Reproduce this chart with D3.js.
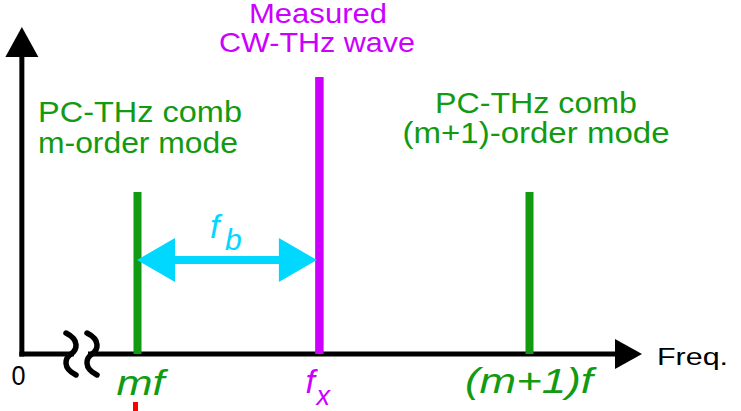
<!DOCTYPE html>
<html>
<head>
<meta charset="utf-8">
<script src="https://cdn.jsdelivr.net/npm/d3@7"></script>
<style>
  html, body { margin: 0; padding: 0; background: #fff; }
  svg { display: block; font-family: "Liberation Sans", Arial, sans-serif; }
</style>
</head>
<body>
<svg id="chart" width="741" height="411"></svg>
<script>
// ---- data ----
const modeNames = ["mf", "fx", "(m+1)f"];
const modeFreqs = [1, 1.464, 2];          // relative frequency (units of f)
const modeAmps  = [0.5, 0.855, 0.5];      // relative amplitude
const modeKinds = ["comb", "cw", "comb"];
const axisRange = [0.705, 2.287];         // frequency extent of the drawn axis (origin drawn with a break)
const beatPair  = [1, 1.464];             // f_b spans mf -> fx

const GREEN = "#129a12", MAGENTA = "#cc00ff", CYAN = "#00d8ff";

const svg = d3.select("#chart");
const x = d3.scaleLinear().domain([1, 2]).range([137.5, 529.5]);
const y = d3.scaleLinear().domain([0, 1]).range([354, 30]);

const x0 = x(axisRange[0]), x1 = x(axisRange[1]);
const y0 = y(0);

// ---- axes ----
svg.append("line").attr("x1", x0 - 2.5).attr("x2", x1 - 20).attr("y1", y0).attr("y2", y0)
  .attr("stroke", "#000").attr("stroke-width", 5);
svg.append("line").attr("x1", x0).attr("x2", x0).attr("y1", y0 + 2.5).attr("y2", y(1) + 20)
  .attr("stroke", "#000").attr("stroke-width", 5);
svg.append("path")
  .attr("d", `M${x1},${y0} L${x1 - 27},${y0 - 15} L${x1 - 27},${y0 + 15} Z`)
  .attr("fill", "#000");
svg.append("path")
  .attr("d", `M${x0},${y(1) - 3} L${x0 - 16.5},${y(1) + 27} L${x0 + 16.5},${y(1) + 27} Z`)
  .attr("fill", "#000");

// axis break: white gap and two squiggles
svg.append("rect").attr("x", 74).attr("y", y0 - 4).attr("width", 14).attr("height", 8).attr("fill", "#fff");
[71, 92].forEach(cx => {
  svg.append("path")
    .attr("d", `M${cx - 5},${y0 - 21} C${cx + 9},${y0 - 14} ${cx + 6},${y0 - 4} ${cx},${y0}
                C${cx - 6},${y0 + 4} ${cx - 9},${y0 + 14} ${cx + 5},${y0 + 21}`)
    .attr("fill", "none").attr("stroke", "#000").attr("stroke-width", 5.5)
    .attr("stroke-linecap", "round");
});

// ---- spectral lines ----
svg.selectAll("line.mode")
  .data(modeFreqs.map((f, i) => ({ f, a: modeAmps[i], kind: modeKinds[i] })))
  .enter().append("line")
  .attr("class", "mode")
  .attr("x1", d => x(d.f)).attr("x2", d => x(d.f))
  .attr("y1", y0).attr("y2", d => y(d.a))
  .attr("stroke", d => d.kind === "cw" ? MAGENTA : GREEN)
  .attr("stroke-width", d => d.kind === "cw" ? 8.5 : 8);

// ---- beat arrow f_b ----
const ax1 = x(beatPair[0]) - 0.5, ax2 = x(beatPair[1]) - 2.5, ay = 260;
const hl = 38, hh = 22, st = 4;
svg.append("path")
  .attr("d", `M${ax1},${ay} L${ax1 + hl},${ay - hh} L${ax1 + hl},${ay - st} L${ax2 - hl},${ay - st}
              L${ax2 - hl},${ay - hh} L${ax2},${ay} L${ax2 - hl},${ay + hh} L${ax2 - hl},${ay + st}
              L${ax1 + hl},${ay + st} L${ax1 + hl},${ay + hh} Z`)
  .attr("fill", CYAN);

const fb = svg.append("text").attr("fill", CYAN).attr("font-style", "italic");
fb.append("tspan").attr("x", 210).attr("y", 238).attr("font-size", 34).text("f");
fb.append("tspan").attr("x", 225).attr("y", 250).attr("font-size", 30).text("b");

// ---- texts ----
function label(t, px, py, size, color, len, anchor, italic) {
  const el = svg.append("text").attr("x", px).attr("y", py)
    .attr("font-size", size).attr("fill", color)
    .attr("text-anchor", anchor || "start")
    .text(t);
  if (len) el.attr("textLength", len).attr("lengthAdjust", "spacingAndGlyphs");
  if (italic) el.attr("font-style", "italic");
  return el;
}
label("Measured", 318, 23, 27, MAGENTA, 138, "middle");
label("CW-THz wave", 317, 52, 28, MAGENTA, 196, "middle");
label("PC-THz comb", 38, 122, 29, GREEN, 204);
label("m-order mode", 38, 153, 29, GREEN, 200);
label("PC-THz comb", 536, 113, 29, GREEN, 202, "middle");
label("(m+1)-order mode", 536, 143, 29, GREEN, 267, "middle");
label("Freq.", 657, 365, 24, "#000", 71);
label("0", 18.5, 385, 27, "#000", 14, "middle");

// mode labels under the axis
label(modeNames[0], x(modeFreqs[0]) + 3, 395, 35, GREEN, 48, "middle", true);
label(modeNames[2], x(modeFreqs[2]) - 0.5, 393, 35, GREEN, 128, "middle", true);
const fxl = svg.append("text").attr("fill", MAGENTA).attr("font-style", "italic");
fxl.append("tspan").attr("x", x(modeFreqs[1]) - 14).attr("y", 393).attr("font-size", 34).text("f");
fxl.append("tspan").attr("x", x(modeFreqs[1]) - 3).attr("y", 405).attr("font-size", 27).text("x");

// small red marker under mf
svg.append("rect").attr("x", x(modeFreqs[0]) - 4.5).attr("y", 402).attr("width", 5).attr("height", 9)
  .attr("fill", "#ff0000");
</script>
</body>
</html>
